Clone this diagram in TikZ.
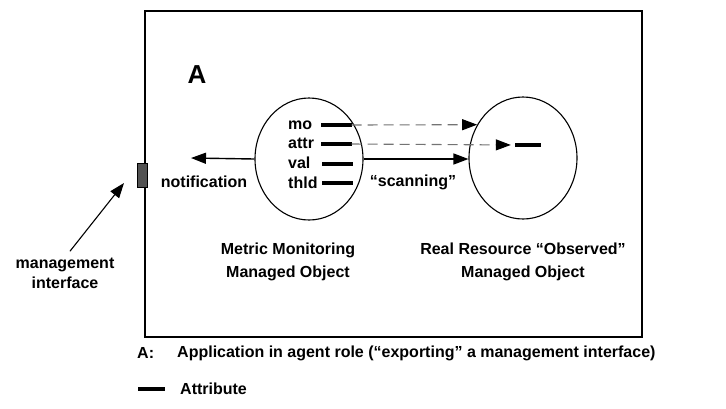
\documentclass[tikz,border=0pt]{standalone}
\usepackage{fontspec}
\setmainfont{Liberation Sans}
\usetikzlibrary{arrows.meta,shapes.geometric}

\tikzset{
	lbl/.style={font=\fontsize{16}{23}\selectfont\bfseries, inner sep=0pt},
	mobj/.style={ellipse, draw, line width=1.1pt, minimum width=108pt, minimum height=122pt, inner sep=0pt},
	attrbar/.style={fill=black, minimum width=31pt, minimum height=3.2pt, inner sep=0pt},
	attrname/.style={lbl, anchor=west, text height=12pt, text depth=3pt},
	link/.style={line width=1.4pt, -{Triangle[length=15pt,width=11pt]}},
	watch/.style={line width=1.1pt, black!55, dash pattern=on 10pt off 6pt, -{Triangle[length=15pt,width=11pt,color=black]}}
}

\begin{document}
\begin{tikzpicture}[x=1pt,y=-1pt]
					\useasboundingbox (0,0) rectangle (726,408);
					% application A and its management interface
					\node[draw, line width=1.1pt, minimum width=497pt, minimum height=326pt, inner sep=0pt] (appA) at (393.5,174) {};
					\node[draw, fill=black!68, line width=0.7pt, minimum width=10pt, minimum height=24pt, inner sep=0pt] (mif) at (142,175) {};
					\node[lbl, font=\fontsize{26}{26}\selectfont\bfseries] (nameA) at (197,75) {A};
					
					% the two managed objects
					\node[mobj] (mmo) at (309,159) {};
					\node[mobj] (robj) at (523,158) {};
					\node[lbl, align=center] (mmolbl) at (288,262) {Metric Monitoring\\Managed Object};
					\node[lbl, align=center] (robjlbl) at (523,262) {Real Resource “Observed”\\Managed Object};
					
					% attributes
					\node[attrname] (mo) at (288,125) {mo};
					\node[attrbar] (mobar) at (336,125) {};
					\node[attrname] (attr) at (288,144) {attr};
					\node[attrbar] (atbar) at (336,144) {};
					\node[attrname] (val) at (288,164) {val};
					\node[attrbar] (valbar) at (337.5,164) {};
					\node[attrname] (thld) at (288,184) {thld};
					\node[attrbar] (thbar) at (337.5,183) {};
					\node[attrbar, minimum width=26pt] (obsbar) at (528,145) {};
					
					% connectors
					\draw[watch] (mobar.east) -- (robj.144);
					\draw[watch, shorten >=4pt] (atbar.east) -- (obsbar.west);
					\draw[link] (mmo.east) -- (mmo.east -| robj.west);
					\node[lbl] (scanlbl) at (413,182) {“scanning”};
					\coordinate (notiftip) at (191,158);
					\draw[link] (mmo.west) -- (notiftip);
					\node[lbl] (notiflbl) at (204,182) {notification};
					
					\node[lbl, align=center, font=\fontsize{16}{20}\selectfont\bfseries] (miflbl) at (65,273) {management\\interface};
					\coordinate (miftip) at (124,183);
					\draw[link, line width=1.1pt, shorten <=8pt] (miflbl.north) -- (miftip);
					
					% legend
					\node[lbl, anchor=west] (keyA) at (137,353) {A:};
					\node[lbl, anchor=west] (keyAtxt) at (177,353) {Application in agent role (“exporting” a management interface)};
					\node[attrbar, minimum width=27pt] (keybar) at (151.5,389) {};
					\node[lbl, anchor=west] (keyattr) at (180,389) {Attribute};
\end{tikzpicture}
\end{document}
